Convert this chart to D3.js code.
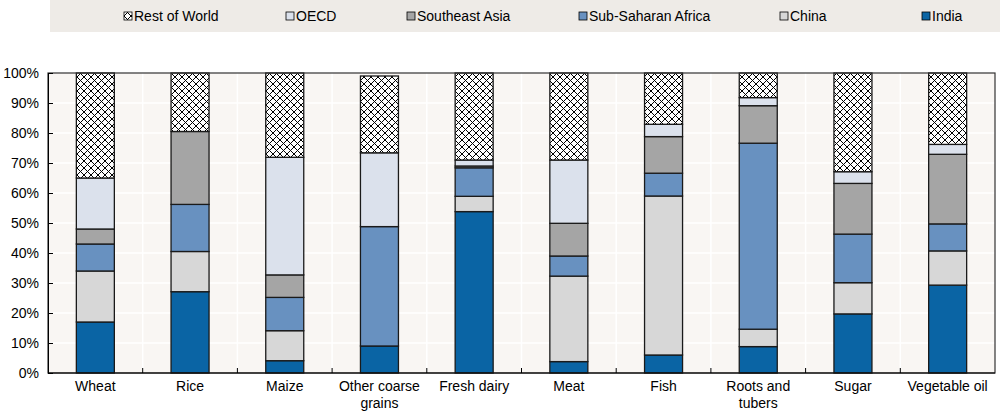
<!DOCTYPE html>
<html><head><meta charset="utf-8">
<script src="https://cdn.jsdelivr.net/npm/d3@7/dist/d3.min.js"></script>
<style>
body{margin:0;background:#fff;}
text{font-family:"Liberation Sans Narrow","Arial Narrow","Liberation Sans",Arial,sans-serif;}
</style></head><body>
<svg id="c" width="1000" height="415"></svg>
<script>
const categories = ["Wheat","Rice","Maize","Other coarse grains","Fresh dairy","Meat","Fish","Roots and tubers","Sugar","Vegetable oil"];
const seriesNames = ["India","China","Sub-Saharan Africa","Southeast Asia","OECD","Rest of World"];
const india   = [17.0, 27.1, 4.1, 9.0, 53.8, 3.8, 6.0, 8.8, 19.7, 29.3];
const china   = [17.0, 13.4, 10.0, 0.0, 5.1, 28.5, 53.0, 5.8, 10.4, 11.4];
const ssa     = [9.0, 15.7, 11.1, 39.8, 9.5, 6.7, 7.6, 62.0, 16.2, 9.0];
const sea     = [5.0, 24.3, 7.5, 0.0, 0.6, 10.9, 12.2, 12.5, 16.9, 23.2];
const oecd    = [17.0, 0.0, 39.2, 24.6, 2.0, 21.1, 4.1, 2.7, 3.9, 3.3];
const row     = [35.0, 19.5, 28.1, 25.6, 29.0, 29.0, 17.1, 8.2, 32.9, 23.8];
const yTicks  = [0,10,20,30,40,50,60,70,80,90,100];
const legendOrder = ["Rest of World","OECD","Southeast Asia","Sub-Saharan Africa","China","India"];

const colors = {"India":"#0a64a4","China":"#d7d7d7","Sub-Saharan Africa":"#6891c0","Southeast Asia":"#a5a5a5","OECD":"#dbe1ec","Rest of World":"url(#hatch)"};
const values = [india, china, ssa, sea, oecd, row];

const svg = d3.select("#c");
const defs = svg.append("defs");
const pat = defs.append("pattern").attr("id","hatch").attr("patternUnits","userSpaceOnUse")
  .attr("width",7).attr("height",7);
pat.append("rect").attr("width",7).attr("height",7).attr("fill","#fff");
pat.append("path").attr("d","M0,0L7,7M7,0L0,7M-1,6L1,8M6,-1L8,1").attr("stroke","#000").attr("stroke-width",1);

// legend
svg.append("rect").attr("x",50).attr("y",0).attr("width",950).attr("height",32).attr("fill","#eeebe7");
const legX = [124,286,407,579,780,922];
legendOrder.forEach((n,i)=>{
  const g = svg.append("g").attr("transform",`translate(${legX[i]},16)`);
  g.append("rect").attr("x",0).attr("y",-4).attr("width",8).attr("height",8)
    .attr("fill",colors[n]).attr("stroke","#000").attr("stroke-width",0.8);
  g.append("text").attr("x",10).attr("y",5).attr("font-size",14).attr("fill","#000").text(n);
});

const m = {l:48, r:995, t:73, b:373};
const x = d3.scaleBand().domain(categories).range([m.l,m.r]).paddingInner(0.6).paddingOuter(0.3);
const xb = d3.scaleBand().domain(categories).range([m.l,m.r]);
const y = d3.scaleLinear().domain([0,100]).range([m.b,m.t]);

svg.append("rect").attr("x",m.l).attr("y",m.t).attr("width",m.r-m.l).attr("height",m.b-m.t).attr("fill","#f9f6f3");
// grid
svg.append("g").selectAll("line").data(yTicks.slice(1,-1)).join("line")
  .attr("x1",m.l).attr("x2",m.r).attr("y1",d=>y(d)).attr("y2",d=>y(d)).attr("stroke","#fff").attr("stroke-width",1.5);
const bounds = categories.slice(1).map(c=>xb(c));
svg.append("g").selectAll("line").data(bounds).join("line")
  .attr("x1",d=>d).attr("x2",d=>d).attr("y1",m.t).attr("y2",m.b).attr("stroke","#fff").attr("stroke-width",1.5);

// bars
const stackData = categories.map((c,i)=>{const o={cat:c}; seriesNames.forEach((s,j)=>o[s]=values[j][i]); return o;});
const stacked = d3.stack().keys(seriesNames)(stackData);
const bw = 38;
stacked.forEach(layer=>{
  svg.append("g").selectAll("rect").data(layer.filter(d=>d[1]-d[0]>0)).join("rect")
    .attr("x",d=>xb(d.data.cat)+xb.bandwidth()/2-bw/2)
    .attr("width",bw)
    .attr("y",d=>y(d[1]))
    .attr("height",d=>y(d[0])-y(d[1]))
    .attr("fill",colors[layer.key]).attr("stroke","#1a1a1a").attr("stroke-width",1.3);
});

// frame
svg.append("rect").attr("x",m.l).attr("y",m.t).attr("width",m.r-m.l).attr("height",m.b-m.t)
  .attr("fill","none").attr("stroke","#333").attr("stroke-width",1.2);

// y axis
const ya = svg.append("g").attr("transform",`translate(${m.l},0)`)
  .call(d3.axisLeft(y).tickValues(yTicks).tickFormat(d=>d+"%").tickSizeInner(-5).tickSizeOuter(0).tickPadding(9));
ya.select(".domain").attr("stroke","#000");
ya.selectAll("line").attr("stroke","#000");
ya.selectAll("text").attr("font-size",14).attr("fill","#000").attr("font-family",'"Liberation Sans Narrow","Arial Narrow",sans-serif');

// x ticks at band boundaries
svg.append("g").selectAll("line").data(bounds).join("line")
  .attr("x1",d=>d).attr("x2",d=>d).attr("y1",m.b).attr("y2",m.b-5).attr("stroke","#000");
svg.append("line").attr("x1",m.l).attr("x2",m.r).attr("y1",m.b).attr("y2",m.b).attr("stroke","#000").attr("stroke-width",1.2);

// x labels
const xa = svg.append("g").attr("transform",`translate(0,${m.b})`)
  .call(d3.axisBottom(xb).tickSize(0).tickPadding(8));
xa.select(".domain").remove();
xa.selectAll(".tick text").attr("font-size",14).attr("fill","#000")
  .attr("font-family",'"Liberation Sans Narrow","Arial Narrow",sans-serif')
  .each(function(d){
    const t = d3.select(this);
    let lines = [d];
    if (d==="Other coarse grains") lines=["Other coarse","grains"];
    if (d==="Roots and tubers") lines=["Roots and","tubers"];
    if (lines.length>1){
      t.text(null);
      lines.forEach((l,i)=>t.append("tspan").attr("x",0).attr("dy",i===0?"0.71em":"1.2em").text(l));
    }
  });
</script>
</body></html>
